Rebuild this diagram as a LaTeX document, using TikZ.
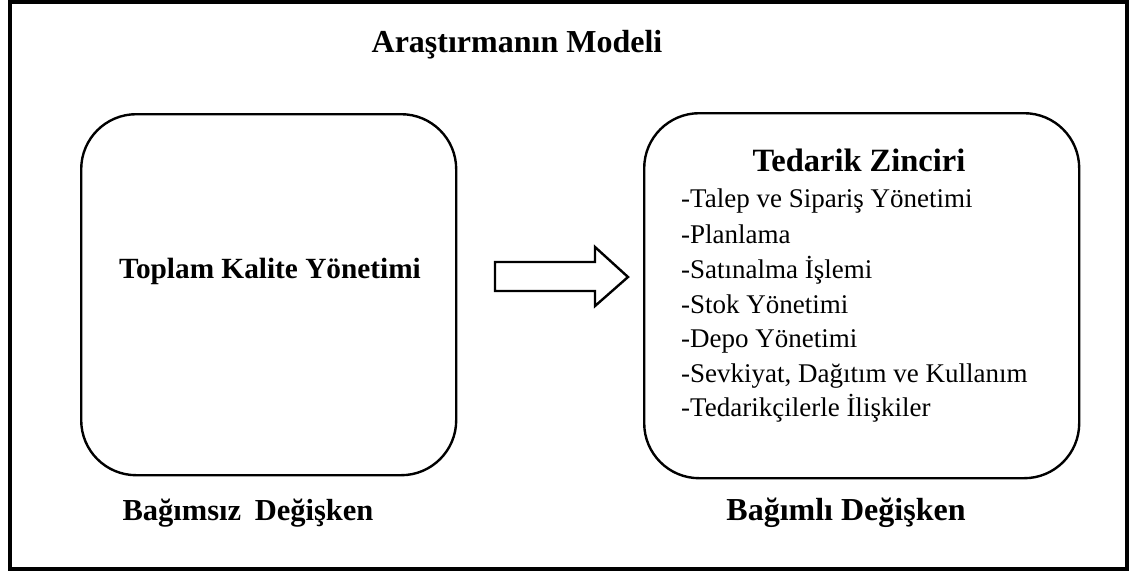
\documentclass[tikz,border=0pt]{standalone}
\usepackage{fontspec}
\setmainfont{Liberation Serif}
\begin{document}
\begin{tikzpicture}[x=1pt,y=-1pt,
  frame/.style={draw=black,line width=3.2pt},
  varbox/.style={draw=black,line width=2.4pt,rounded corners=55pt,anchor=north west,inner sep=0pt},
  heading/.style={font=\bfseries\fontsize{32}{38}\selectfont},
  item/.style={font=\fontsize{27}{35}\selectfont,anchor=base west,inner sep=0pt}]
  \useasboundingbox (0,0) rectangle (1131,574);
  % outer frame
  \draw[frame] (10,2) rectangle (1127,569);
  % title
  \node[heading] (title) at (517,45) {Araştırmanın Modeli};
  % independent variable box
  \node[varbox,minimum width=375pt,minimum height=361pt] (tkm) at (80,113) {};
  \node[font=\bfseries\fontsize{29.3}{34}\selectfont] (tkmtext) at (270,271) {Toplam Kalite Yönetimi};
  % dependent variable box
  \node[varbox,minimum width=435pt,minimum height=365pt] (tz) at (643,112) {};
  \node[font=\bfseries\fontsize{32.5}{38}\selectfont] (tztext) at (859,160) {Tedarik Zinciri};
  \node[item] (i1) at (681,207) {-Talep ve Sipariş Yönetimi};
  \node[item] (i2) at (681,243) {-Planlama};
  \node[item] (i3) at (681,278) {-Satınalma İşlemi};
  \node[item] (i4) at (681,313) {-Stok Yönetimi};
  \node[item] (i5) at (681,347) {-Depo Yönetimi};
  \node[item] (i6) at (681,382) {-Sevkiyat, Dağıtım ve Kullanım};
  \node[item] (i7) at (681,416) {-Tedarikçilerle İlişkiler};
  % block arrow between the boxes
  \draw[line width=2.4pt,line join=miter,fill=white]
    (495,262) -- (595,262) -- (595,247) -- (628,277) -- (595,306) -- (595,291) -- (495,291) -- cycle;
  % variable labels
  \node[heading,font=\bfseries\fontsize{30.5}{36}\selectfont] (indep) at (248,513) {Bağımsız\hspace{0.2em} Değişken};
  \node[heading] (dep) at (846,513) {Bağımlı Değişken};
\end{tikzpicture}
\end{document}
